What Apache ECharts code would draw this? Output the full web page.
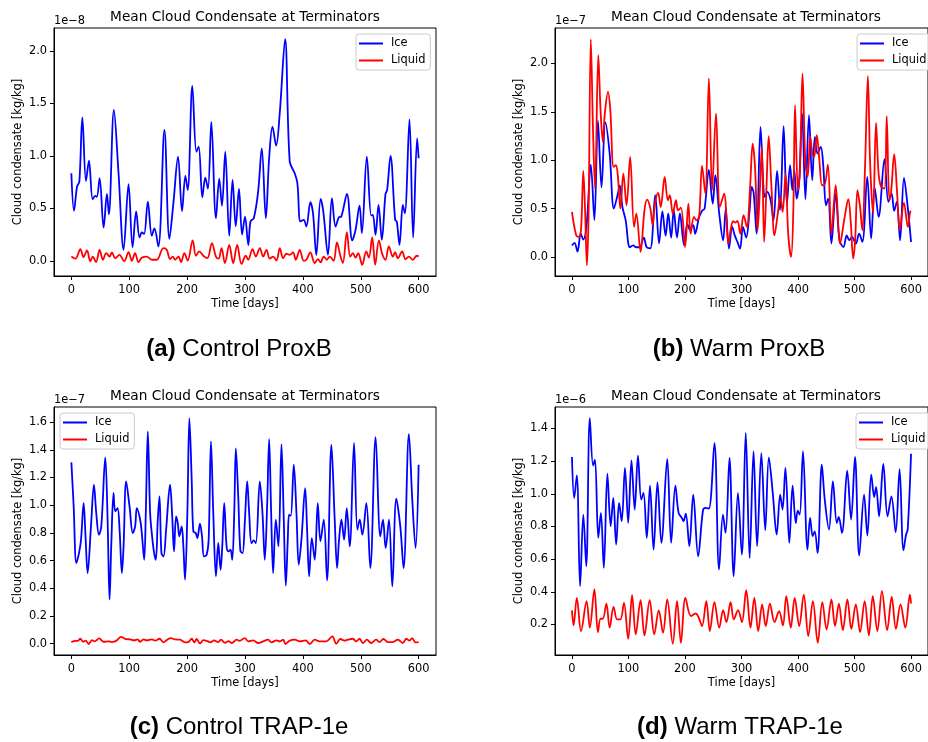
<!DOCTYPE html>
<html>
<head>
<meta charset="utf-8">
<script src="https://cdn.jsdelivr.net/npm/echarts@6.0.0/dist/echarts.min.js"></script>
<style>html,body{margin:0;padding:0;background:#fff}#c{width:928px;height:742px}</style>
</head>
<body>
<div id="c"></div>
<script>
// ---------- data (values in units of the axis offset: 1e-8, 1e-7, 1e-7, 1e-6) ----------
const xTicks = [0, 100, 200, 300, 400, 500, 600];
const aTicks = [0, 0.5, 1.0, 1.5, 2.0];
const bTicks = [0, 0.5, 1.0, 1.5, 2.0];
const cTicks = [0, 0.2, 0.4, 0.6, 0.8, 1.0, 1.2, 1.4, 1.6];
const dTicks = [0.2, 0.4, 0.6, 0.8, 1.0, 1.2, 1.4];
const seriesNames = ['Ice', 'Liquid'];
const plotTitle = 'Mean Cloud Condensate at Terminators';
const captions = [['(a)', ' Control ProxB'], ['(b)', ' Warm ProxB'], ['(c)', ' Control TRAP-1e'], ['(d)', ' Warm TRAP-1e']];
const offsets = ['1e\u22128', '1e\u22127', '1e\u22127', '1e\u22126'];

const aIce = [[0,0.835],[4.6,0.476],[9.8,0.708],[13.8,0.755],[19,1.368],[25.3,0.76],[30.4,0.955],[36.8,0.587],[41.2,0.62],[44,0.61],[48.8,0.787],[55.7,0.317],[61.5,0.638],[64.8,0.444],[73.5,1.438],[81.5,0.835],[90.2,0.105],[98.8,0.73],[105.7,0.13],[112,0.47],[117.8,0.222],[121.8,0.27],[125.7,0.257],[132.1,0.565],[139,0.238],[143.4,0.308],[150.3,0.137],[160.8,1.248],[169.4,0.21],[176.3,0.55],[184.3,0.994],[191.2,0.473],[197,0.81],[201,0.676],[209,1.667],[216,1.04],[220,1.089],[226.3,0.606],[231.4,0.794],[236,0.686],[241.8,1.324],[249.8,0.406],[255.5,0.784],[260.2,0.524],[265.9,1.04],[272.8,0.238],[278.5,0.771],[284,0.33],[289.6,0.686],[295,0.25],[300,0.422],[305.7,0.15],[309.5,0.375],[315.2,0.406],[322.7,0.66],[329,1.073],[336,0.406],[341.7,0.978],[347.5,1.279],[353.8,1.098],[360,1.406],[369.3,2.114],[377.3,0.946],[385.9,0.835],[390.5,0.74],[395.7,0.375],[401.4,0.39],[406,0.327],[412.9,0.559],[417.5,0.454],[423.2,0.057],[430.7,0.59],[435.3,0.47],[443.3,0.057],[450.2,0.597],[456.5,0.327],[462.3,0.416],[466.3,0.422],[476.1,0.638],[485.3,0.194],[491,0.295],[497.9,0.527],[501.9,0.263],[510.5,0.994],[518,0.432],[520.9,0.438],[525.5,0.248],[530.7,0.533],[536.4,0.2],[542.7,0.635],[545.6,0.676],[551.4,1.0],[559.4,0.39],[562.3,0.375],[566.9,0.152],[572.7,0.533],[576.1,0.454],[584.2,1.349],[590.5,0.222],[597.4,1.168],[600,0.978]];
const aLiq = [[0,0.04],[6.9,0.02],[15.5,0.11],[21,0.035],[27,0.1],[32.7,-0.006],[37,0.04],[42.5,-0.013],[48.8,0.105],[54.5,0.01],[60.3,0.073],[66,0.04],[70,0.08],[75.8,0.025],[83,0.057],[91.3,-0.006],[98.8,0.083],[104.5,0],[110,0.073],[116,-0.013],[121.7,0.03],[130,0.04],[139,0.01],[147.6,0.01],[159,0.12],[164.8,0.105],[170.5,0.016],[175.1,0.04],[179.2,0.01],[185,0.04],[189.5,-0.013],[195.2,0.073],[201,0.003],[209.6,0.194],[215.3,0.048],[221,0.089],[228,0.048],[234.9,0.025],[242.9,0.168],[249.8,0.04],[254.4,0.02],[259.5,0.12],[265.3,-0.022],[272.8,0.152],[279.6,-0.022],[286.5,0.152],[294,-0.03],[301.4,0.048],[305.5,0.01],[313,0.11],[318.7,0.04],[325.6,0.12],[331.4,0.04],[337.1,0.105],[342.9,0.02],[348.6,0.04],[354.4,0.003],[360.1,0.12],[365.9,0.025],[371.6,0.067],[377.3,0.057],[383.1,0.08],[387.7,0.01],[394.6,0.105],[401.4,0],[406,0.01],[412.9,0.08],[420.4,-0.022],[426.1,0.016],[430.7,-0.016],[435.9,0.04],[441.6,0.01],[446.2,0.04],[453.1,0],[458.8,0.175],[465.1,0.04],[469.1,-0.022],[476,0.273],[481.8,0.04],[486.4,0.073],[491,0.03],[495.6,0.073],[502.5,-0.038],[509.4,0.089],[514,0.03],[519.8,0.222],[524.9,-0.038],[531.3,0.194],[537,0.067],[542.7,0.01],[548.5,0.137],[555.4,0.04],[559.4,0.083],[564,0.025],[571.5,0.089],[577.2,0.016],[583,0.04],[589.9,0.01],[596.8,0.048],[600,0.04]];

const bIce = [[0,0.12],[4.6,0.145],[9.8,0.055],[15.5,0.24],[20.1,0.18],[25.9,0.33],[33.4,0.955],[39.7,0.38],[46,1.41],[52.3,0.72],[59.2,1.39],[66.7,1.07],[74.2,0.5],[81.1,0.65],[84.6,0.74],[89.2,0.52],[95,0.38],[102.4,0.1],[108.2,0.12],[113.9,0.1],[119.7,0.1],[127.1,0.2],[132.3,0.1],[138.7,0.09],[147.3,0.64],[154.2,0.14],[160,0.47],[165.7,0.22],[170.3,0.45],[175.5,0.2],[180.1,0.48],[185.9,0.2],[191,0.45],[198.4,0.12],[204.2,0.34],[208.8,0.28],[214.6,0.33],[218,0.24],[224.9,0.41],[230.6,0.48],[234.7,0.5],[242.2,0.9],[249.1,0.55],[253.7,0.845],[260.6,0.448],[267.5,0.172],[272.1,0.5],[277.9,0.086],[283.6,0.31],[288.2,0.22],[292.8,0.155],[297.4,0.086],[302.6,0.31],[308.3,0.2],[314.1,0.466],[318.1,0.724],[321.5,0.662],[326.7,0.241],[333.6,1.345],[338.8,0.724],[341.1,0.62],[345.7,0.672],[351.5,0.586],[356.6,0.379],[363,0.89],[368.2,0.483],[374.5,1.352],[380.3,0.545],[386,0.948],[390,0.69],[393.5,0.897],[397.5,0.603],[402.1,0.793],[407.3,1.483],[413.1,0.597],[419.4,1.466],[425.2,0.793],[429.8,1.241],[434.4,1.069],[440.2,1.138],[444.8,0.931],[449.4,0.534],[453.4,0.603],[459.1,0.138],[466.6,0.655],[473.5,0.172],[480.4,0.103],[486.2,0.224],[490.8,0.172],[495.4,0.207],[502.3,0.138],[508.1,0.241],[513.8,0.155],[522.5,0.828],[529.4,0.19],[535.7,0.717],[542.6,0.414],[553,1.01],[559.9,0.569],[565.6,0.655],[570.2,0.476],[574.8,0.569],[580.6,0.172],[587.5,0.817],[594.4,0.5],[600,0.155]];
const bLiq = [[0,0.466],[7.5,0.224],[12,0.207],[16,0.276],[20.1,0.89],[23.6,0.414],[26.4,-0.086],[29.3,0.414],[33.4,2.25],[37.4,1.276],[40.8,0.707],[46.6,2.086],[50.6,1.517],[54.6,1.19],[58.1,1.483],[63.8,1.707],[67.9,1.517],[73.6,0.931],[77.7,0.948],[81.1,0.845],[85.7,0.5],[90.9,0.862],[96.6,0.534],[103,1.034],[109.9,0.31],[113.9,0.448],[121.4,0.052],[128.3,0.483],[132.9,0.593],[138.7,0.5],[142.7,0.328],[146.7,0.545],[152.5,0.662],[157.1,0.517],[164,0.828],[169.7,0.586],[173.2,0.638],[178.4,0.448],[184.1,0.586],[187.6,0.483],[192.8,0.51],[200.2,0.103],[206,0.552],[210,0.241],[215.8,0.414],[220.4,0.379],[225,0.414],[230.2,0.941],[235.9,0.655],[242.3,1.845],[248,0.69],[254.9,1.483],[261.8,0.517],[269.3,0.655],[276.7,0.138],[280.7,0.276],[285.3,0.369],[289.4,0.355],[292.8,0.372],[298,0.24],[303.7,0.431],[309.5,0.31],[315.2,0.724],[319.8,1.172],[323.9,0.931],[328.5,0.276],[332.5,0.69],[336,1.138],[340,0.155],[344,0.69],[348.1,1.248],[352.7,0.759],[358.4,0.224],[364.2,0.448],[368.8,0.621],[372.8,0.466],[378,0.862],[382.6,0.241],[387.8,0.0],[391.8,0.517],[394.7,1.569],[399.9,0.69],[403.3,0.862],[407.9,1.897],[413.1,0.966],[417.1,0.828],[421.7,1.241],[425.8,1.052],[428.6,1.034],[433.2,1.259],[437.8,1.0],[442.4,0.741],[446.5,0.741],[452.8,0.955],[459.1,0.241],[466.6,0.741],[474.6,0.138],[482.1,0.397],[489,0.597],[493.1,0.379],[497.7,-0.017],[501.1,0.172],[505.2,0.69],[509.8,0.517],[513.8,0.276],[518.4,0.897],[523.6,1.869],[527.6,0.966],[532.8,0.448],[538,1.386],[542.6,0.862],[547.2,0.724],[553,0.707],[557,1.455],[561.6,0.586],[564.5,0.655],[570.2,1.062],[575.4,0.655],[580,0.276],[587.5,0.559],[594.4,0.31],[598.4,0.466],[600,0.476]];

const cIce = [[0,1.309],[4,0.991],[8.6,0.582],[13.2,0.654],[16.7,0.751],[21.2,1.015],[24.7,0.751],[28.1,0.51],[33.9,0.847],[39,1.148],[43,0.943],[47.7,0.787],[51.7,0.847],[58.6,1.345],[62.6,0.895],[66,0.318],[68.9,0.703],[72.9,1.088],[75.8,0.955],[79.8,0.979],[83.3,0.823],[87.3,0.51],[90.2,0.703],[94.7,1.172],[100.5,0.991],[106.2,0.799],[110.2,0.847],[113.1,0.979],[118.9,0.895],[121.7,0.799],[125.8,0.606],[128.6,0.943],[132.1,1.533],[136.1,0.943],[139.5,0.775],[143,0.654],[145.9,0.606],[149.3,0.895],[152.2,1.064],[155.6,0.654],[159.1,0.63],[163.7,0.823],[170.5,1.148],[174,0.943],[177.4,0.666],[180.9,0.919],[183.8,0.871],[186.6,0.775],[190.6,0.847],[193.5,0.703],[196.4,0.462],[200.4,0.943],[203.9,1.629],[207.9,1.184],[210.7,0.811],[214.8,0.799],[217.6,0.763],[222.2,0.866],[225.7,0.775],[229.1,0.63],[233.7,0.642],[237.2,0.751],[241.2,1.461],[245.2,0.943],[249.8,0.486],[253.8,0.727],[257.8,0.534],[260.7,0.703],[264.1,1.015],[268.2,0.703],[271.6,0.666],[275,0.679],[277.9,0.606],[281.4,0.943],[284.2,1.41],[288.3,1.064],[292,0.67],[295.7,0.654],[299.7,0.88],[303.8,1.172],[307.2,0.943],[311.2,0.727],[315.2,0.746],[318.7,0.727],[325.6,1.172],[330.2,0.943],[334.2,0.606],[338.2,0.991],[341.7,1.477],[345.2,0.943],[348.6,0.51],[353.2,0.895],[357.8,0.703],[363,1.441],[367,0.895],[370.5,0.419],[373.9,0.751],[376.2,0.931],[379.1,0.924],[384.3,1.292],[388.9,0.943],[392.9,0.57],[397.5,0.751],[403.9,1.124],[407.3,0.823],[410.8,0.486],[415.4,0.763],[420.5,0.606],[425.7,1.015],[430.3,0.739],[436.1,0.895],[441.8,0.457],[449.3,1.436],[455,0.895],[459.1,0.546],[462.5,0.751],[466.6,0.895],[471.2,0.751],[475.8,0.979],[480.9,0.703],[488.4,1.449],[494.1,0.823],[498.2,0.895],[502.8,0.787],[509.7,1.015],[516.5,0.546],[525.7,1.492],[533.8,0.775],[538.4,0.895],[543,0.691],[548.8,0.895],[554.5,0.414],[561.4,1.047],[568.3,0.847],[574,0.546],[583.2,1.513],[589,1.04],[594.7,0.691],[600,1.292]];
const cLiq = [[0,0.012],[6.9,0.02],[10.9,0.02],[15.5,0.036],[20.1,0.014],[24.7,0.022],[29.9,-0.002],[35.6,0.026],[40.2,0.017],[48.2,0.038],[55.7,0.014],[64.3,0.017],[70,0.012],[78.7,0.024],[85.6,0.05],[93,0.035],[101.6,0.031],[108.5,0.024],[114.3,0.031],[118.9,0.014],[124.6,0.031],[130.3,0.024],[139,0.031],[144.7,0.022],[152.2,0.036],[159.1,0.01],[164.8,0.026],[171.7,0.041],[179.2,0.031],[187.8,0.029],[196.4,0.01],[202.1,0.012],[207.9,0.036],[212.5,0.01],[216.5,0.034],[222.2,0.002],[228,0.026],[234.9,0.019],[240.6,0.01],[246.3,0.024],[253.8,0.012],[258.4,0.029],[265.3,0.007],[271.6,0.019],[277.3,0.005],[285.4,0.029],[290.5,0.02],[299.7,0.041],[305.5,0.017],[314.1,0.024],[322.7,0.005],[331.4,0.017],[340,0.029],[345.7,0.01],[354.4,0.024],[360.1,0.017],[365.9,0.029],[369.9,-0.002],[377.3,0.022],[386,0.029],[394.6,0.017],[404.9,0.024],[411.8,-0.002],[420.4,0.029],[429,0.017],[440.5,0.017],[450.8,0.053],[457.7,0],[464.6,0.034],[472,0.022],[477.8,0.029],[486.4,0.036],[492.1,0.017],[497.9,0.036],[503.6,0.005],[510.5,0.029],[518,0.005],[526.6,0.029],[532.3,0.012],[539.2,0.034],[546.7,0.012],[555.4,0.012],[564,0.029],[572.7,0.005],[578.5,0.036],[584.2,0.022],[588.8,0.041],[594.6,0.01],[600,0.012]];

const dIce = [[0,1.225],[4,0.974],[8.6,1.113],[14.4,0.434],[20.1,0.872],[25.3,0.557],[31.6,1.463],[37.4,1.172],[40.8,1.209],[46.6,0.73],[51.2,0.883],[56.4,0.546],[62.7,1.123],[68.5,0.801],[73.1,0.974],[78.2,0.689],[83.4,0.944],[88,0.832],[93.8,1.158],[99.5,0.821],[105.3,1.204],[111,0.903],[116.8,1.233],[122.6,0.964],[126.6,1.005],[132.4,0.73],[138.1,1.05],[144.4,0.658],[151.3,1.07],[158.2,0.699],[168.6,1.213],[175.5,0.699],[183,1.05],[188.7,0.883],[194.5,0.852],[197.4,0.832],[201.4,0.878],[207.7,0.679],[214.6,0.995],[223.3,0.618],[231.9,0.899],[236.5,0.913],[242.3,0.909],[252.1,1.31],[260.3,0.536],[267.2,0.872],[271.8,0.76],[278.7,1.219],[286.2,0.495],[293.7,1.005],[300.6,0.628],[307.5,1.372],[314.4,0.607],[321.3,1.26],[327.6,0.679],[335.1,1.249],[342,0.777],[348.4,1.223],[355.3,1.005],[362.2,0.75],[368.5,0.995],[372.6,0.903],[377.7,1.158],[384.6,0.699],[390.4,1.05],[396.1,0.821],[399.6,0.897],[403,0.872],[408.8,1.26],[416.8,0.658],[421.4,0.852],[426,0.74],[429.5,0.77],[434.6,0.638],[442.1,1.178],[447.3,0.964],[454.8,0.781],[461.7,1.076],[468.6,0.821],[472,0.858],[477.8,0.76],[487,1.141],[493.9,0.842],[500.8,1.225],[508.3,0.622],[516.9,0.995],[522.7,0.744],[529.6,1.117],[534.8,0.98],[538.2,1.041],[543.4,0.862],[550.9,1.182],[558.4,0.862],[565.3,0.984],[572.8,0.764],[579.7,1.151],[586.6,0.654],[591.2,0.75],[594.1,0.781],[600,1.245]];
const dLiq = [[0,0.286],[2.9,0.194],[8.6,0.363],[16.1,0.159],[25.9,0.343],[31.6,0.18],[39.7,0.414],[46,0.153],[50.6,0.235],[54.6,0.235],[60.9,0.328],[66.7,0.18],[73.6,0.308],[79.9,0.231],[85.7,0.231],[92,0.332],[99.5,0.112],[106.4,0.379],[112.8,0.139],[121.4,0.349],[128.3,0.133],[137.5,0.349],[145.6,0.139],[153.6,0.286],[161.1,0.149],[168.6,0.353],[178.4,0.082],[185.9,0.343],[192.8,0.088],[200.8,0.363],[210.6,0.251],[219.2,0.267],[224.4,0.241],[230.2,0.19],[237.7,0.343],[244,0.159],[252.1,0.337],[260.6,0.18],[267.5,0.288],[273.3,0.214],[280.7,0.337],[286.4,0.231],[293.9,0.288],[300.8,0.214],[308.3,0.41],[315.9,0.18],[322.7,0.363],[329.6,0.159],[336.5,0.322],[342.9,0.19],[350.3,0.328],[358.4,0.214],[366.5,0.282],[373.3,0.194],[379.2,0.373],[387.2,0.18],[394.1,0.363],[402.1,0.19],[410.2,0.383],[418.2,0.129],[426.3,0.343],[434.9,0.088],[443,0.337],[450.5,0.169],[459.1,0.353],[465.5,0.19],[472.4,0.328],[479.3,0.165],[487.4,0.353],[494.3,0.173],[502.3,0.322],[509.8,0.153],[517.9,0.343],[525.4,0.133],[532.3,0.373],[540.4,0.159],[548.5,0.404],[557.7,0.165],[565.8,0.369],[573.2,0.173],[581.3,0.322],[589.9,0.18],[598,0.383],[600,0.328]];

// ---------- layout ----------
const FONT = 'DejaVu Sans';
const CAPFONT = 'Liberation Sans';
const layout = [
  {left: 54,  top: 28,  ymin: -0.145, ymax: 2.22,  ticks: aTicks, ice: aIce, liq: aLiq, lgLeft: 356, lgTop: 34, capX: 239, capY: 349},
  {left: 555, top: 28,  ymin: -0.197, ymax: 2.367, ticks: bTicks, ice: bIce, liq: bLiq, lgLeft: 857, lgTop: 34, capX: 739, capY: 349},
  {left: 54,  top: 407, ymin: -0.0815, ymax: 1.709, ticks: cTicks, ice: cIce, liq: cLiq, lgLeft: 60, lgTop: 413, capX: 239, capY: 727},
  {left: 555, top: 407, ymin: 0.013,  ymax: 1.531, ticks: dTicks, ice: dIce, liq: dLiq, lgLeft: 856, lgTop: 413, capX: 740, capY: 727}
];
const W = 382, H = 248;
const TICKFS = 11.4;

const grid = [], xAxis = [], yAxis = [], series = [], legend = [], graphic = [];
layout.forEach((p, i) => {
  grid.push({left: p.left, top: p.top, width: W, height: H, show: true, borderColor: '#000', borderWidth: 1, backgroundColor: 'transparent', containLabel: false});
  xAxis.push({
    type: 'value', gridIndex: i, min: -30, max: 630,
    axisLine: {show: true, onZero: false, lineStyle: {color: '#000', width: 1}},
    splitLine: {show: false},
    axisTick: {show: true, length: 4, lineStyle: {color: '#000'}, customValues: xTicks},
    axisLabel: {color: '#000', fontSize: TICKFS, fontFamily: FONT, margin: 9, customValues: xTicks},
    name: 'Time [days]', nameLocation: 'middle', nameGap: 23,
    nameTextStyle: {color: '#000', fontSize: TICKFS, fontFamily: FONT}
  });
  yAxis.push({
    type: 'value', gridIndex: i, min: p.ymin, max: p.ymax,
    axisLine: {show: true, onZero: false, lineStyle: {color: '#000', width: 1}},
    splitLine: {show: false},
    axisTick: {show: true, length: 4, lineStyle: {color: '#000'}, customValues: p.ticks},
    axisLabel: {color: '#000', fontSize: TICKFS, fontFamily: FONT, margin: 7, customValues: p.ticks, formatter: v => v.toFixed(1)},
    name: 'Cloud condensate [kg/kg]', nameLocation: 'middle', nameGap: 30,
    nameTextStyle: {color: '#000', fontSize: TICKFS, fontFamily: FONT}
  });
  series.push({
    name: seriesNames[0], type: 'line', xAxisIndex: i, yAxisIndex: i, data: p.ice,
    showSymbol: false, symbol: 'none', smooth: 0.35, lineStyle: {color: '#0000ff', width: 1.8}, itemStyle: {color: '#0000ff'}, z: 2, animation: false
  });
  series.push({
    name: seriesNames[1], type: 'line', xAxisIndex: i, yAxisIndex: i, data: p.liq,
    showSymbol: false, symbol: 'none', smooth: 0.35, lineStyle: {color: '#ff0000', width: 1.8}, itemStyle: {color: '#ff0000'}, z: 3, animation: false
  });
  legend.push({
    data: seriesNames, orient: 'vertical', left: p.lgLeft, top: p.lgTop,
    icon: 'rect', itemWidth: 24, itemHeight: 2, itemGap: 4,
    padding: [3, 5, 3, 3], backgroundColor: 'rgba(255,255,255,0.8)', borderColor: '#cccccc', borderWidth: 1, borderRadius: 3,
    textStyle: {color: '#000', fontSize: TICKFS, fontFamily: FONT, padding: [0, 0, 0, 3], lineHeight: 13},
    selectedMode: false
  });
  graphic.push({type: 'text', x: p.left + W / 2, y: p.top - 11, silent: true,
    style: {text: plotTitle, fill: '#000', font: '13.7px "' + FONT + '"', textAlign: 'center', textVerticalAlign: 'middle'}});
  graphic.push({type: 'text', x: p.left, y: p.top - 7, silent: true,
    style: {text: offsets[i], fill: '#000', font: TICKFS + 'px "' + FONT + '"', textAlign: 'left', textVerticalAlign: 'middle'}});
  graphic.push({type: 'text', x: p.capX, y: p.capY, silent: true,
    style: {text: '{b|' + captions[i][0] + '}{n|' + captions[i][1] + '}', textAlign: 'center', textVerticalAlign: 'middle',
      rich: {b: {fontFamily: CAPFONT, fontSize: 24, fontWeight: 'bold', fill: '#000'}, n: {fontFamily: CAPFONT, fontSize: 24, fill: '#000'}}}});
});

const chart = echarts.init(document.getElementById('c'), null, {renderer: 'canvas'});
chart.setOption({animation: false, backgroundColor: '#fff', grid, xAxis, yAxis, series, legend, graphic});
</script>
</body>
</html>
